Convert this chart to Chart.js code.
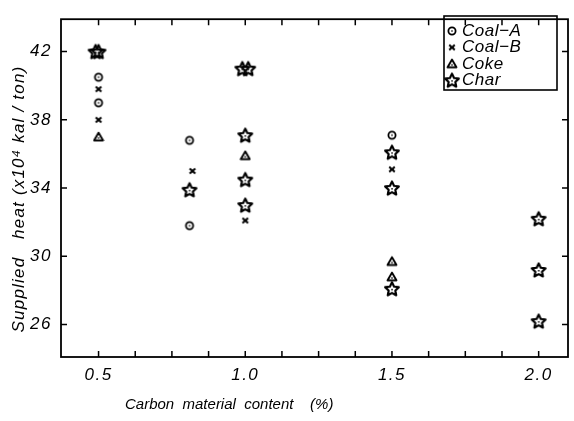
<!DOCTYPE html>
<html>
<head>
<meta charset="utf-8">
<script src="https://cdn.jsdelivr.net/npm/chart.js@4/dist/chart.umd.min.js"></script>
<style>
  html, body { margin: 0; padding: 0; background: #fff; }
  #wrap { width: 574px; height: 421px; position: relative; }
</style>
</head>
<body>
<div id="wrap"><canvas id="heatChart"></canvas></div>
<script>
//-- Data
const seriesNames = ["Coal\u2212A", "Coal\u2212B", "Coke", "Char"];

const coalAx = [0.5, 0.5, 0.81, 0.81, 1.5];
const coalAy = [40.5, 39.0, 36.8, 31.8, 37.1];

const coalBx = [0.5, 0.5, 0.82, 1.0, 1.5];
const coalBy = [39.8, 38.0, 35.0, 32.1, 35.1];

const cokeX = [0.5, 1.0, 1.5, 1.5];
const cokeY = [37.0, 35.9, 29.7, 28.8];

const charX = [0.49, 0.5, 0.81, 0.99, 1.01, 1.0, 1.0, 1.0, 1.5, 1.5, 1.5, 2.0, 2.0, 2.0];
const charY = [42.0, 42.0, 33.9, 41.0, 41.0, 37.1, 34.5, 33.0, 36.1, 34.0, 28.1, 32.2, 29.2, 26.2];

const xTickValues = [0.5, 0.625, 0.75, 0.875, 1.0, 1.125, 1.25, 1.375, 1.5, 1.625, 1.75, 1.875, 2.0];
const xTickLabels = ["0.5", "1.0", "1.5", "2.0"];
const yTickValues = [26, 30, 34, 38, 42];

const xTitle = "Carbon  material  content    (%)";
const yTitle = "Supplied   heat (x10\u2074 kal / ton)";

const fontFam = "'Liberation Sans', Arial, sans-serif";

//-- small hand drawn markers like the old plot
var makeMarker = function(kind) {
    let size = kind === "star" ? 18 : 12;
    let c = document.createElement("canvas");
    c.width = size;
    c.height = size;
    let g = c.getContext("2d");
    let m = size / 2;
    g.strokeStyle = "#000";
    g.fillStyle = "#000";
    g.lineJoin = "round";
    if (kind === "circle") {
        g.lineWidth = 1.8;
        g.beginPath();
        g.arc(m, m, 3.6, 0, Math.PI * 2);
        g.stroke();
        g.fillRect(m - 0.7, m - 0.7, 1.4, 1.4);
    } else if (kind === "cross") {
        g.lineWidth = 2;
        g.beginPath();
        g.moveTo(m - 2.8, m - 2.6);
        g.lineTo(m + 2.8, m + 2.6);
        g.moveTo(m + 2.8, m - 2.6);
        g.lineTo(m - 2.8, m + 2.6);
        g.stroke();
    } else if (kind === "triangle") {
        g.lineWidth = 1.9;
        g.beginPath();
        g.moveTo(m, m - 4.2);
        g.lineTo(m + 4.5, m + 3.5);
        g.lineTo(m - 4.5, m + 3.5);
        g.closePath();
        g.stroke();
        g.fillRect(m - 0.7, m + 0.3, 1.4, 1.4);
    } else {
        g.lineWidth = 2.2;
        g.beginPath();
        for (let i = 0; i < 10; i++) {
            let r = i % 2 === 0 ? 7.2 : 3.5;
            let a = -Math.PI / 2 + i * Math.PI / 5;
            let px = m + r * Math.cos(a);
            let py = m + 0.6 + r * Math.sin(a);
            if (i === 0) g.moveTo(px, py); else g.lineTo(px, py);
        }
        g.closePath();
        g.stroke();
        g.fillRect(m - 0.7, m, 1.5, 1.5);
    }
    return c;
}

var markers = [makeMarker("circle"), makeMarker("cross"), makeMarker("triangle"), makeMarker("star")];

var toPoints = function(xs, ys) {
    let pts = [];
    for (let i = 0; i < xs.length; i++) {
        pts.push({ x: xs[i], y: ys[i] });
    }
    return pts;
}

var seriesData = [toPoints(coalAx, coalAy), toPoints(coalBx, coalBy), toPoints(cokeX, cokeY), toPoints(charX, charY)];

var datasets = [];
for (let i = 0; i < seriesNames.length; i++) {
    datasets.push({
        label: seriesNames[i],
        data: seriesData[i],
        pointStyle: markers[i],
        pointRadius: 5,
        showLine: false
    });
}

//-- frame, inward ticks, titles and the boxed legend
var decorPlugin = {
    id: "decor",
    beforeDraw: function(chart) {
        // the old lettering is spaced out a bit
        chart.ctx.letterSpacing = "1.5px";
    },
    afterDraw: function(chart) {
        let ctx = chart.ctx;
        let a = chart.chartArea;
        let xs = chart.scales.x;
        let ys = chart.scales.y;
        ctx.save();
        ctx.strokeStyle = "#000";
        ctx.lineWidth = 1.8;
        ctx.strokeRect(a.left, a.top, a.right - a.left, a.bottom - a.top);

        ctx.lineWidth = 1.5;
        ctx.beginPath();
        xs.ticks.forEach(function(t) {
            let px = xs.getPixelForValue(t.value);
            ctx.moveTo(px, a.bottom);
            ctx.lineTo(px, a.bottom - 6);
            ctx.moveTo(px, a.top);
            ctx.lineTo(px, a.top + 6);
        });
        ys.ticks.forEach(function(t) {
            let py = ys.getPixelForValue(t.value);
            ctx.moveTo(a.left, py);
            ctx.lineTo(a.left + 6, py);
            ctx.moveTo(a.right, py);
            ctx.lineTo(a.right - 6, py);
        });
        ctx.stroke();

        // axis titles
        ctx.fillStyle = "#000";
        ctx.letterSpacing = "0px";
        ctx.font = "italic 15px " + fontFam;
        ctx.textBaseline = "middle";
        ctx.textAlign = "left";
        ctx.fillText(xTitle, 125, 405);

        ctx.save();
        ctx.letterSpacing = "1.2px";
        ctx.font = "italic 17px " + fontFam;
        ctx.translate(19, 199);
        ctx.rotate(-Math.PI / 2);
        ctx.textAlign = "center";
        ctx.fillText(yTitle, 0, 0);
        ctx.restore();

        // legend box
        let bx = 444, by = 16, bw = 113, bh = 74;
        ctx.lineWidth = 1.6;
        ctx.strokeRect(bx, by, bw, bh);
        ctx.letterSpacing = "0.5px";
        ctx.font = "italic 17px " + fontFam;
        ctx.textAlign = "left";
        chart.data.datasets.forEach(function(ds, i) {
            let cy = by + 15 + i * 16.4;
            let img = ds.pointStyle;
            ctx.drawImage(img, bx + 8 - img.width / 2, cy - img.height / 2);
            ctx.fillText(ds.label, bx + 18, cy);
        });
        ctx.restore();
        ctx.letterSpacing = "0px";
    }
}

var chart = new Chart(document.getElementById("heatChart"), {
    type: "scatter",
    data: { datasets: datasets },
    plugins: [decorPlugin],
    options: {
        responsive: true,
        maintainAspectRatio: false,
        animation: false,
        layout: { padding: { top: 12, right: 3, left: 0, bottom: 0 } },
        plugins: {
            legend: { display: false },
            tooltip: { enabled: false }
        },
        scales: {
            x: {
                type: "linear",
                min: 0.372,
                max: 2.1,
                afterBuildTicks: function(scale) {
                    scale.ticks = xTickValues.map(v => ({ value: v }));
                },
                afterFit: function(scale) {
                    scale.height = 64;
                },
                grid: { display: false, drawTicks: false },
                border: { display: false },
                ticks: {
                    autoSkip: false,
                    maxRotation: 0,
                    padding: 8,
                    color: "#000",
                    font: { family: fontFam, size: 17, style: "italic" },
                    callback: function(v) {
                        let s = Number(v).toFixed(1);
                        return (xTickLabels.indexOf(s) >= 0 && Math.abs(v * 2 - Math.round(v * 2)) < 1e-6) ? s : "";
                    }
                }
            },
            y: {
                type: "linear",
                min: 24.1,
                max: 43.9,
                afterBuildTicks: function(scale) {
                    scale.ticks = yTickValues.map(v => ({ value: v }));
                },
                afterFit: function(scale) {
                    scale.width = 61;
                },
                grid: { display: false, drawTicks: false },
                border: { display: false },
                ticks: {
                    padding: 9,
                    color: "#000",
                    font: { family: fontFam, size: 17, style: "italic" }
                }
            }
        }
    }
});
</script>
</body>
</html>
